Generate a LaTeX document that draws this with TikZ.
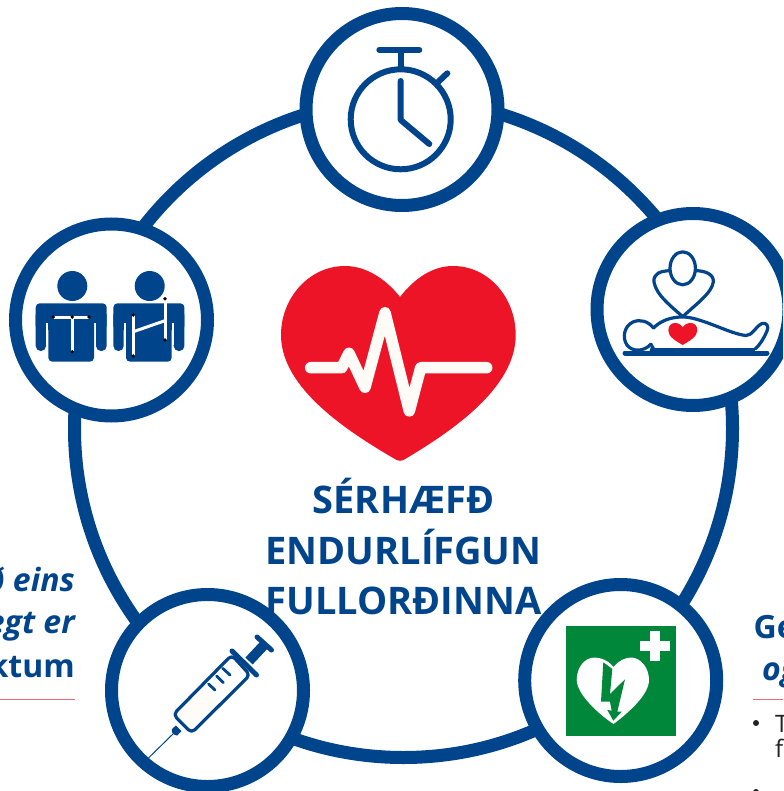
\documentclass[tikz,border=0pt]{standalone}
\usepackage{fontspec}
\setmainfont{Open Sans}
\definecolor{bl}{HTML}{00448C}
\definecolor{rd}{HTML}{EE1427}
\definecolor{gr}{HTML}{00873A}
\definecolor{pk}{HTML}{EE6B7C}
\definecolor{cr}{HTML}{FFFCF8}
\definecolor{ink}{HTML}{222222}
\tikzset{
  ringnode/.style={circle,draw=bl,fill=white,line width=13pt,minimum size=192pt,inner sep=0pt},
  title/.style={anchor=base,text=bl,font=\bfseries\fontsize{38}{38}\selectfont,inner sep=0pt},
  side/.style={text=bl,font=\bfseries\fontsize{32}{32}\selectfont,inner sep=0pt},
  sideit/.style={text=bl,font=\bfseries\itshape\fontsize{32}{32}\selectfont,inner sep=0pt},
  body/.style={text=ink,font=\fontsize{24}{24}\selectfont,inner sep=0pt,anchor=base west},
  icon/.style={draw=bl,line width=#1,line cap=round,line join=round},
  icon/.default=6pt,
  dot/.style={fill=black,circle,inner sep=0pt,minimum size=3.8pt},
  wl/.style={draw=white,line width=3pt},
}
\begin{document}
\begin{tikzpicture}[x=1pt,y=-1pt]
\useasboundingbox (0,0) rectangle (783,791);
\clip (0,0) rectangle (783,791);
\fill[white] (0,0) rectangle (783,791);
% outer ring
\node[circle,draw=bl,line width=13pt,minimum size=658pt,inner sep=0pt] (big) at (403.5,428.5) {};
% title
\node[title] (t1) at (403.5,513) {SÉRHÆFÐ};
\node[title] (t2) at (403.5,564) {ENDURLÍFGUN};
\node[title] (t3) at (403.5,614.5) {FULLORÐINNA};
% side texts
\node[sideit,anchor=base east] (l1) at (75,591) {ð eins};
\node[sideit,anchor=base east] (l2) at (75,633) {egt er};
\node[side,anchor=base east] (l3) at (75,677) {ktum};
\draw[pk,line width=.7pt] (0,699) -- (75,699);
\node[side,anchor=base west] (r1) at (753.5,638) {Ge};
\node[sideit,anchor=base west] (r2) at (762,680) {og};
\draw[pk,line width=.7pt] (752.5,699) -- (783,699);
\fill[ink] (756,723) circle (3);
\node[body] (r3) at (775,732) {T};
\node[body] (r4) at (775,757) {f};
\fill[ink] (756,792) circle (3);
% rings
\node[ringnode] (top) at (402,109.5) {};
\node[ringnode] (rig) at (693,309.5) {};
\node[ringnode] (lr) at (620.7,680.5) {};
\node[ringnode] (ll) at (207.5,690.5) {};
\node[ringnode] (lef) at (111.5,320) {};
% heart
\fill[rd] (400,297) .. controls (386,279) and (366,266) .. (345,266)
  .. controls (309,266) and (281,298) .. (281,335)
  .. controls (281,388) and (347,431) .. (394,458.5)
  .. controls (398,461.5) and (402,461.5) .. (406,458.5)
  .. controls (452,431) and (515.7,388) .. (515.7,335)
  .. controls (515.7,298) and (489,266) .. (453,266)
  .. controls (432,266) and (414,279) .. (400,297) -- cycle;
\draw[cr,line width=11.5pt,line cap=round,line join=round]
  (310.7,367.7) -- (341.7,367.7) -- (349,353.3) -- (365,387.3) -- (385,312.7)
  -- (409.3,411) -- (420.7,367.7) -- (486.7,367.7);
% stopwatch
\draw[icon] (400.7,119.3) circle (50);
\draw[icon] (379.3,50) -- (419.3,50);
\draw[icon,line cap=butt] (400.7,50) -- (400.7,69);
\draw[icon] (437,83) -- (447.3,73.3);
\draw[icon] (400.7,81) -- (400.7,120) -- (429.3,144);
% two persons
\foreach \dx/\hx in {0/72.3,77.7/149.7}{
  \begin{scope}[xshift=\dx pt]
  \fill[bl,rounded corners=4pt] (35.7,303.3) rectangle (106.7,330);
  \fill[bl,rounded corners=5pt] (35.7,310) rectangle (46,351);
  \fill[bl,rounded corners=5pt] (96,310) rectangle (106.7,351);
  \fill[white] (46,323.3) rectangle (48.3,345);
  \fill[white] (94,323.3) rectangle (96,345);
  \fill[bl,rounded corners=4pt] (48.3,310) rectangle (94,361.7);
  \end{scope}
  \fill[bl] (\hx,286) circle (15);
}
\draw[wl] (53.3,317) -- (89,317);
\draw[wl] (72.3,317) -- (72.3,351.7);
\draw[wl] (133.3,315) -- (133.3,356);
\draw[wl] (133.3,331.7) -- (165,320.7);
\draw[wl] (165,298.7) -- (165,340);
\foreach \p in {(53.3,317),(72.3,317),(89,317),(72.3,351.7),(133.3,315),(133.3,356),(165,298.7),(165,340)}
  \node[dot] at \p {};
% CPR
\draw[icon=3.2pt] (682.7,268.3) ellipse (12.7 and 16.5);
\draw[icon=3.2pt] (669.5,270.7) .. controls (660,271) and (653,274) .. (654,282)
  .. controls (656,295) and (672,307) .. (682.7,316.7)
  .. controls (695,305) and (712,293) .. (713.3,282)
  .. controls (714,274) and (705,271) .. (696.5,270.7);
\draw[icon=3.2pt] (653.5,328) .. controls (648,321) and (640,319) .. (633,322)
  .. controls (624,326) and (622,338) .. (627,345)
  .. controls (632,352) and (644,352) .. (651,344);
\draw[icon=3.2pt] (653.5,328) .. controls (662,319) and (675,316.5) .. (685,317)
  .. controls (705,319) and (730,334) .. (746,335.5)
  .. controls (752,336) and (756,326) .. (762,323.5)
  .. controls (767,322) and (769,327) .. (767,331)
  .. controls (764,338) and (760,345) .. (755,349);
\fill[bl] (654,348) rectangle (755,354);
\draw[icon=5pt] (625,353) -- (767,353);
\fill[bl] (649,353) -- (652,343) -- (656,350) -- cycle;
\fill[rd] (682.7,345) .. controls (676,341) and (668.3,337) .. (668.3,330.5)
  .. controls (668.3,325) and (672,323) .. (675,323)
  .. controls (678.5,323) and (681.5,325) .. (682.7,327)
  .. controls (684,325) and (687,323) .. (690.5,323)
  .. controls (694,323) and (697.3,325) .. (697.3,330.5)
  .. controls (697.3,337) and (689,341) .. (682.7,345) -- cycle;
% AED
\fill[gr] (566,626) rectangle (676,736);
\fill[white] (640,641) rectangle (670,651);
\fill[white] (650,631) rectangle (660,661);
\fill[white] (613.5,667) .. controls (608,660) and (600,657.5) .. (594,657.5)
  .. controls (584,658) and (576.7,668) .. (576.7,680)
  .. controls (577,695) and (600,715) .. (613.5,724)
  .. controls (628,713) and (649,695) .. (649,680)
  .. controls (649,668) and (641,658) .. (631.5,657.5)
  .. controls (625,657.5) and (618,661) .. (613.5,667) -- cycle;
\fill[gr] (603.3,662.3) -- (612.3,669) -- (610,694) -- (625,679.3) -- (617.3,711.7)
  -- (621.7,711.7) -- (613.3,720.7) -- (607.3,710) -- (611.7,710.7) -- (610,701.7)
  -- (601,701.7) -- cycle;
% syringe
\fill[cr] (176,714) -- (190,729) -- (216,702) -- (205,686) -- cycle;
\draw[icon=3.2pt,rounded corners=4.5pt] (231.7,655) -- (250,675) -- (191.5,733) -- (173.3,714.5) -- cycle;
\draw[icon=5pt] (232,651) -- (256.5,675);
\draw[icon=5pt] (257,637) -- (271.5,650);
\draw[bl,line width=10pt] (249,661) -- (264.5,644.5);
\draw[icon=2.8pt] (208.5,684) -- (215,690);
\draw[icon=2.8pt] (216.7,676) -- (223.3,682.7);
\draw[icon=2.8pt] (222.7,668.3) -- (230,675);
\draw[bl,line width=1pt] (145.7,760.7) -- (174,733);
\fill[bl] (172,729) -- (176,725.5) -- (181.5,731) -- (177,735.5) .. controls (173,735) and (171,732) .. (172,729) -- cycle;
\end{tikzpicture}
\end{document}
